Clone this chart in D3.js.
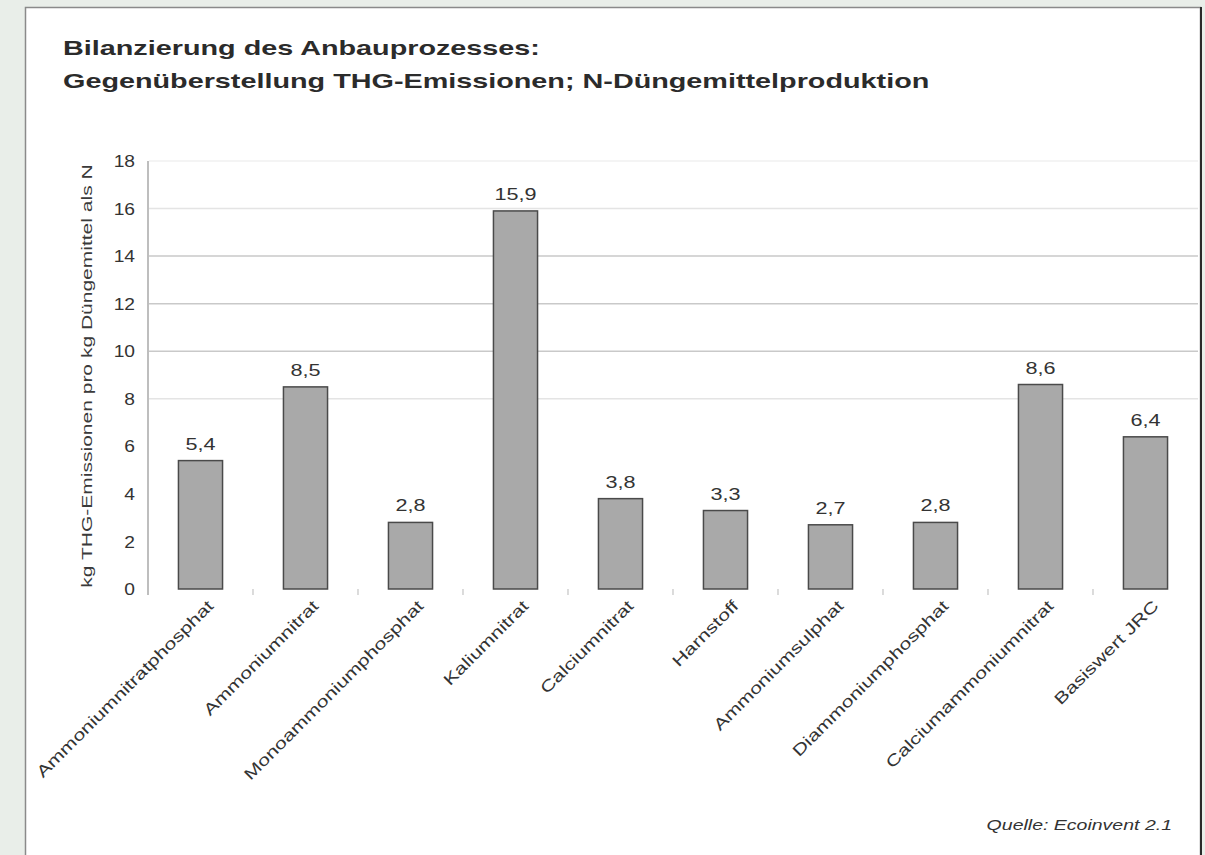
<!DOCTYPE html>
<html>
<head>
<meta charset="utf-8">
<script src="https://cdn.jsdelivr.net/npm/d3@7"></script>
<style>
  html, body { margin: 0; padding: 0; background: #e9eee9; }
  svg { display: block; }
  text { font-family: "Liberation Sans", Arial, sans-serif; }
</style>
</head>
<body>
<svg id="chart" width="1205" height="855"></svg>
<script>
// Fertilizer types and their GHG emissions (kg CO2-eq per kg fertilizer as N)
const categories = [
  "Ammoniumnitratphosphat",
  "Ammoniumnitrat",
  "Monoammoniumphosphat",
  "Kaliumnitrat",
  "Calciumnitrat",
  "Harnstoff",
  "Ammoniumsulphat",
  "Diammoniumphosphat",
  "Calciumammoniumnitrat",
  "Basiswert JRC"
];
const values = [5.4, 8.5, 2.8, 15.9, 3.8, 3.3, 2.7, 2.8, 8.6, 6.4];
const yTicks = [0, 2, 4, 6, 8, 10, 12, 14, 16, 18];

const titleLines = [
  "Bilanzierung des Anbauprozesses:",
  "Gegenüberstellung THG-Emissionen; N-Düngemittelproduktion"
];
const yTitle = "kg THG-Emissionen pro kg Düngemittel als N";
const sourceNote = "Quelle: Ecoinvent 2.1";

const fmt = v => d3.format(".1f")(v).replace(".", ",");

const svg = d3.select("#chart");

// widen a text element horizontally along its own baseline (wide lettering)
function widen(sel, k) {
  sel.each(function () {
    const w = this.getComputedTextLength();
    d3.select(this).attr("textLength", w * k).attr("lengthAdjust", "spacingAndGlyphs");
  });
}

// white panel with frame
svg.append("rect")
  .attr("x", 25.5).attr("y", 7.5).attr("width", 1175).attr("height", 860)
  .attr("fill", "#ffffff").attr("stroke", "#8a8a8a").attr("stroke-width", 1.5);
svg.append("line")
  .attr("x1", 1201).attr("x2", 1201).attr("y1", 7).attr("y2", 855)
  .attr("stroke", "#2a2a2a").attr("stroke-width", 2);

// title
svg.selectAll("text.title").data(titleLines).join("text")
  .attr("class", "title")
  .attr("x", 63).attr("y", (d, i) => 55 + i * 33)
  .attr("font-size", 21).attr("font-weight", "bold").attr("fill", "#2b2b2b")
  .text(d => d)
  .call(widen, 1.37);

const x = d3.scaleBand().domain(categories).range([148, 1198])
  .paddingInner(0.58).paddingOuter(0.29);
const y = d3.scaleLinear().domain([0, 18]).range([589, 161]);

// horizontal gridlines (the upper ones read more clearly)
function gridColor(v) {
  if (v >= 10 && v <= 14) return "#c9c9c9";
  if (v === 8 || v === 16) return "#e4e4e4";
  if (v === 18) return "#f1f1f1";
  return "none";
}
svg.append("g").selectAll("line").data(yTicks.filter(v => v > 0)).join("line")
  .attr("x1", 149).attr("x2", 1198)
  .attr("y1", d => y(d)).attr("y2", d => y(d))
  .attr("stroke", d => gridColor(d)).attr("stroke-width", 1.5);

// y axis
const yAxis = svg.append("g").attr("transform", "translate(148,0)")
  .call(d3.axisLeft(y).tickValues(yTicks).tickSize(0).tickPadding(13).tickFormat(d3.format("d")));
yAxis.select(".domain").attr("stroke", "#a9a9a9").attr("stroke-width", 1.5)
  .attr("d", `M0,${y(18)}V${y(0) + 6}`);
yAxis.selectAll("text").attr("font-size", 16).attr("fill", "#333")
  .attr("font-family", "Liberation Sans, Arial, sans-serif")
  .attr("dy", "0.35em").call(widen, 1.2);

// small ticks between categories at the base
svg.append("g").selectAll("line").data(categories.slice(1)).join("line")
  .attr("x1", d => x(d) - x.step() * x.paddingInner() / 2)
  .attr("x2", d => x(d) - x.step() * x.paddingInner() / 2)
  .attr("y1", y(0)).attr("y2", y(0) + 6)
  .attr("stroke", "#c4c4c4").attr("stroke-width", 1.2);

// y axis title
svg.append("text")
  .attr("transform", `translate(92,${(y(0) + y(18)) / 2 + 1}) rotate(-90)`)
  .attr("text-anchor", "middle")
  .attr("font-size", 15).attr("fill", "#3a3a3a")
  .text(yTitle)
  .call(widen, 1.4);

// bars
svg.append("g").selectAll("rect").data(values).join("rect")
  .attr("x", (d, i) => x(categories[i]))
  .attr("y", d => y(d))
  .attr("width", x.bandwidth())
  .attr("height", d => y(0) - y(d))
  .attr("fill", "#a9a9a9")
  .attr("stroke", "#4a4a4a").attr("stroke-width", 1.5);

// value labels
svg.append("g").selectAll("text").data(values).join("text")
  .attr("x", (d, i) => x(categories[i]) + x.bandwidth() / 2)
  .attr("y", d => y(d) - 11)
  .attr("text-anchor", "middle")
  .attr("font-size", 16).attr("fill", "#333")
  .text(d => fmt(d))
  .call(widen, 1.35);

// category labels, rotated
svg.append("g").selectAll("text").data(categories).join("text")
  .attr("transform", d => `translate(${x(d) + x.bandwidth() / 2 + 14},${y(0) + 18}) rotate(-45)`)
  .attr("text-anchor", "end")
  .attr("font-size", 16).attr("fill", "#333")
  .text(d => d)
  .call(widen, 1.33);

// source note
svg.append("text")
  .attr("x", 1172).attr("y", 830)
  .attr("text-anchor", "end")
  .attr("font-size", 15).attr("font-style", "italic").attr("fill", "#333")
  .text(sourceNote)
  .call(widen, 1.3);
</script>
</body>
</html>
